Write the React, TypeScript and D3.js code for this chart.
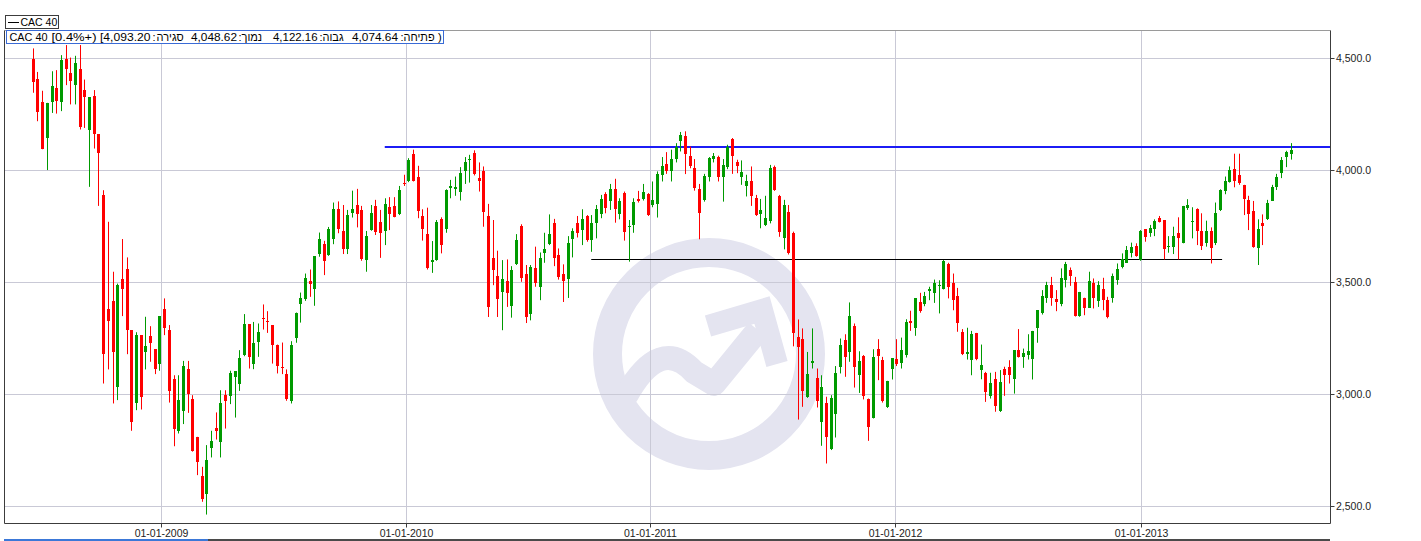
import React from "react";
import * as d3 from "d3";

// ---- Data (weekly CAC 40 candles, first week starting 2008-06-23) ----
const START_WEEK = Date.UTC(2008, 5, 23);

const opens = [
  4497, 4408, 4307, 4146, 4307, 4369, 4307, 4500, 4437, 4381,
  4455, 4359, 4183, 4332, 4162, 3890, 3380, 3417, 3034, 3515,
  3560, 3287, 2960, 3265, 3191, 3260, 3203, 3138, 3380, 3287,
  3071, 2838, 2927, 3112, 2979, 2811, 2635, 2554, 2763, 2851,
  2789, 2997, 2993, 3079, 3046, 3176, 3314, 3134, 3235, 3342,
  3327, 3310, 3223, 3121, 3091, 2970, 3253, 3403, 3426, 3506,
  3473, 3626, 3671, 3622, 3695, 3827, 3730, 3649, 3812, 3846,
  3824, 3600, 3734, 3843, 3772, 3731, 3839, 3842, 3806, 3943,
  3951, 4075, 3970, 3797, 3716, 3593, 3600, 3784, 3739, 3922,
  3918, 3906, 4000, 4048, 4078, 3966, 4000, 3797, 3610, 3530,
  3458, 3506, 3396, 3582, 3754, 3537, 3361, 3566, 3478, 3633,
  3672, 3767, 3622, 3537, 3515, 3694, 3767, 3734, 3799, 3690,
  3767, 3806, 3896, 3864, 3918, 3806, 3899, 3749, 3757, 3872,
  3873, 3896, 3846, 3849, 3981, 4030, 3996, 4052, 4130, 4155,
  4066, 4010, 3918, 3869, 3970, 4051, 4060, 3970, 4015, 4140,
  4037, 3973, 3931, 3951, 3876, 3806, 3757, 3776, 4015, 3887,
  3697, 3816, 3722, 3257, 3250, 2990, 3141, 3074, 2878, 2960,
  2755, 2915, 3121, 3243, 3190, 3305, 3089, 3173, 2982, 2896,
  3205, 3153, 2942, 3112, 3158, 3141, 3176, 3327, 3295, 3414,
  3403, 3463, 3451, 3485, 3473, 3582, 3499, 3439, 3280, 3183,
  3156, 3275, 3109, 3097, 2993, 3068, 2927, 3113, 3124, 3068,
  3198, 3168, 3176, 3158, 3299, 3365, 3429, 3488, 3426, 3402,
  3513, 3558, 3503, 3350, 3432, 3387, 3500, 3418, 3470, 3424,
  3430, 3513, 3567, 3588, 3633, 3663, 3600, 3737, 3719, 3739,
  3790, 3779, 3660, 3657, 3719, 3678, 3831, 3769, 3828, 3731,
  3678, 3730, 3675, 3824, 3910, 3948, 4006, 3981, 3936, 3869,
  3819, 3652, 3764, 3782, 3866, 3925, 3991, 4060, 4074.64,
];

const highs = [
  4545, 4440, 4356, 4302, 4443, 4448, 4515, 4560, 4504, 4512,
  4560, 4406, 4326, 4359, 4162, 3912, 3771, 3548, 3495, 3694,
  3612, 3287, 3278, 3265, 3347, 3305, 3203, 3350, 3429, 3310,
  3086, 3086, 3150, 3150, 2997, 2811, 2677, 2774, 2838, 2920,
  3019, 3019, 3106, 3104, 3198, 3359, 3314, 3324, 3317, 3402,
  3372, 3310, 3223, 3232, 3112, 3238, 3366, 3455, 3540, 3558,
  3618, 3723, 3686, 3748, 3857, 3862, 3846, 3824, 3910, 3918,
  3842, 3730, 3846, 3869, 3824, 3876, 3881, 3881, 3931, 3981,
  4055, 4093, 4021, 3827, 3834, 3685, 3779, 3791, 3916, 3958,
  3973, 4015, 4060, 4070, 4090, 4036, 4018, 3851, 3779, 3642,
  3600, 3603, 3573, 3716, 3760, 3578, 3578, 3660, 3634, 3722,
  3804, 3784, 3652, 3581, 3707, 3742, 3797, 3827, 3801, 3801,
  3846, 3891, 3903, 3940, 3963, 3876, 3906, 3779, 3876, 3909,
  3940, 3899, 3951, 3996, 4060, 4082, 4093, 4122, 4172, 4175,
  4107, 4051, 3940, 3985, 4060, 4078, 4066, 4051, 4115, 4145,
  4048, 4045, 3981, 4018, 3891, 3873, 3887, 4025, 4022, 3891,
  3869, 3846, 3727, 3335, 3295, 3190, 3295, 3116, 3086, 2990,
  2997, 3127, 3250, 3269, 3411, 3317, 3193, 3176, 2982, 3202,
  3247, 3168, 3061, 3161, 3247, 3254, 3336, 3374, 3429, 3454,
  3458, 3481, 3513, 3510, 3600, 3588, 3540, 3476, 3292, 3298,
  3284, 3275, 3223, 3101, 3097, 3101, 3109, 3124, 3153, 3198,
  3292, 3205, 3269, 3284, 3376, 3466, 3503, 3525, 3466, 3563,
  3592, 3567, 3525, 3458, 3432, 3548, 3518, 3506, 3521, 3436,
  3540, 3585, 3630, 3663, 3678, 3675, 3734, 3737, 3757, 3782,
  3797, 3779, 3707, 3749, 3791, 3842, 3872, 3836, 3831, 3809,
  3776, 3746, 3857, 3916, 3973, 4018, 4075, 4075, 3936, 3887,
  3864, 3782, 3804, 3869, 3936, 3985, 4060, 4088, 4122.16,
];

const lows = [
  4347, 4220, 4095, 4002, 4257, 4254, 4265, 4381, 4295, 4295,
  4183, 4190, 3927, 4098, 3842, 3049, 3112, 2960, 2975, 3350,
  3180, 2838, 2930, 2933, 3112, 3146, 3091, 3106, 3265, 2964,
  2769, 2826, 2868, 2918, 2745, 2640, 2521, 2464, 2719, 2799,
  2719, 2848, 2957, 2897, 3016, 3171, 3116, 3113, 3168, 3290,
  3275, 3138, 3094, 3091, 2972, 2960, 3231, 3321, 3418, 3436,
  3396, 3615, 3533, 3619, 3671, 3720, 3627, 3627, 3790, 3746,
  3597, 3548, 3731, 3712, 3610, 3667, 3734, 3791, 3801, 3931,
  3948, 3951, 3787, 3687, 3558, 3543, 3597, 3630, 3722, 3876,
  3887, 3866, 3940, 3946, 3978, 3906, 3749, 3346, 3488, 3346,
  3287, 3391, 3343, 3578, 3503, 3319, 3331, 3481, 3421, 3588,
  3667, 3573, 3513, 3413, 3431, 3612, 3701, 3667, 3682, 3637,
  3697, 3787, 3809, 3824, 3767, 3782, 3687, 3593, 3722, 3857,
  3866, 3797, 3836, 3790, 3951, 3985, 3951, 4036, 4085, 3984,
  4010, 3910, 3693, 3861, 3951, 4036, 3951, 3861, 4006, 3985,
  3988, 3936, 3884, 3842, 3797, 3742, 3752, 3764, 3909, 3704,
  3648, 3625, 3215, 2888, 2945, 2985, 3116, 2942, 2771, 2692,
  2752, 2808, 3094, 3079, 3146, 3031, 3007, 2978, 2793, 2893,
  3064, 2964, 2940, 3067, 3127, 3116, 3165, 3284, 3262, 3365,
  3394, 3421, 3409, 3362, 3469, 3429, 3376, 3280, 3176, 3156,
  3086, 3153, 3068, 2967, 2982, 2923, 2922, 2994, 3049, 3004,
  3165, 3119, 3156, 3067, 3231, 3357, 3409, 3396, 3372, 3394,
  3478, 3485, 3348, 3347, 3354, 3387, 3384, 3391, 3376, 3340,
  3410, 3490, 3563, 3588, 3612, 3615, 3597, 3682, 3704, 3707,
  3768, 3603, 3633, 3627, 3603, 3675, 3824, 3697, 3667, 3645,
  3660, 3585, 3667, 3819, 3894, 3946, 3925, 3936, 3801, 3734,
  3655, 3578, 3667, 3779, 3866, 3913, 3966, 4015, 4048.62,
];

const closes = [
  4396, 4262, 4098, 4302, 4376, 4311, 4493, 4455, 4400, 4482,
  4195, 4329, 4326, 4162, 4079, 3179, 3329, 3191, 3488, 3469,
  3290, 2878, 3265, 2987, 3216, 3228, 3116, 3350, 3299, 3016,
  2848, 2975, 3127, 3002, 2749, 2699, 2533, 2707, 2792, 2838,
  2963, 2972, 3097, 3104, 3161, 3314, 3168, 3228, 3277, 3339,
  3323, 3223, 3128, 3118, 2979, 3220, 3366, 3429, 3522, 3493,
  3618, 3693, 3597, 3737, 3827, 3739, 3649, 3801, 3828, 3806,
  3604, 3707, 3812, 3727, 3722, 3851, 3804, 3794, 3913, 3939,
  4048, 3955, 3821, 3739, 3563, 3600, 3772, 3667, 3913, 3931,
  3928, 3991, 4040, 4052, 3985, 3951, 3816, 3391, 3558, 3428,
  3515, 3454, 3555, 3690, 3518, 3346, 3570, 3499, 3610, 3648,
  3716, 3610, 3525, 3507, 3675, 3731, 3722, 3784, 3690, 3767,
  3828, 3873, 3834, 3918, 3828, 3866, 3727, 3752, 3861, 3864,
  3903, 3801, 3869, 3985, 4021, 4000, 4052, 4104, 4160, 4073,
  4018, 3924, 3809, 3976, 4055, 4066, 3973, 4025, 4107, 4063,
  4018, 3993, 3954, 3888, 3801, 3824, 3787, 4010, 3913, 3727,
  3846, 3630, 3275, 3213, 3016, 3091, 3149, 2970, 3034, 2811,
  2985, 3094, 3220, 3168, 3350, 3124, 3149, 2994, 2856, 3168,
  3173, 2970, 3061, 3161, 3138, 3198, 3324, 3317, 3429, 3374,
  3440, 3470, 3500, 3491, 3597, 3478, 3422, 3320, 3183, 3190,
  3269, 3158, 3131, 3009, 3052, 2949, 3057, 3086, 3086, 3198,
  3168, 3186, 3193, 3283, 3376, 3439, 3488, 3433, 3414, 3521,
  3582, 3530, 3351, 3458, 3388, 3506, 3433, 3491, 3424, 3344,
  3528, 3560, 3607, 3645, 3660, 3619, 3731, 3704, 3745, 3776,
  3772, 3648, 3664, 3707, 3700, 3842, 3846, 3775, 3731, 3664,
  3730, 3652, 3809, 3913, 3955, 4003, 3955, 3943, 3872, 3806,
  3657, 3737, 3752, 3857, 3928, 3973, 4048, 4081, 4093.2,
];

const yTickValues = [2500, 3000, 3500, 4000, 4500];
const xTickDates = ["2009-01-01", "2010-01-01", "2011-01-01", "2012-01-01", "2013-01-01"];
const xTickLabels = ["01-01-2009", "01-01-2010", "01-01-2011", "01-01-2012", "01-01-2013"];

// horizontal drawn trend levels: value, start date, end date (null = to right edge), colour, width
const levelValues = [4107, 3603];
const levelStarts = ["2009-11-30", "2010-10-04"];
const levelEnds = [null, "2013-05-02"];
const levelColors = ["#1c1cf5", "#000000"];
const levelWidths = [2, 1];

// header info tokens (visual order, left to right), x positions and (for latin ones) widths
const headerTokens = [
  "CAC 40", "[0.4%+)", "[4,093.20", ":", "סגירה", "4,048.62", ":", "נמוך",
  "4,122.16", ":", "גבוה", "4,074.64", ":", "פתיחה", ")",
];
const headerTokenX = [9.5, 51.5, 100, 152.5, 156.5, 191, 238.5, 241.5, 273, 319.5, 322.5, 352, 400.5, 403.5, 438];
const headerTokenW = [38, 45, 50.5, 0, 0, 46, 0, 0, 44.5, 0, 0, 46, 0, 0, 0];

const FONT = "'Liberation Sans', Arial, sans-serif";
const W = 1421;
const H = 541;
const PL = 4.5, PR = 1330.5, PT = 30.5, PB = 523.5;

const isHebrew = (s: string) => /[\u0590-\u05FF]/.test(s);

export default function App() {
  const x = d3
    .scaleUtc()
    .domain([new Date(Date.UTC(2009, 0, 1)), new Date(Date.UTC(2013, 0, 1))])
    .range([161.5, 1141]);
  const y = d3.scaleLinear().domain([2500, 4500]).range([506.5, 58.5]);

  const candles = opens.map((o, i) => ({
    date: new Date(START_WEEK + i * 7 * 864e5),
    o,
    h: highs[i],
    l: lows[i],
    c: closes[i],
  }));

  const red = "#ff0000";
  const green = "#009a00";
  const grid = "#c9c9d6";
  const wm = "#e4e4f0";

  return (
    <svg
      width={W}
      height={H}
      style={{ position: "absolute", left: 0, top: 0, background: "#fff" }}
      fontFamily={FONT}
    >
      <rect x={0} y={0} width={W} height={H} fill="#fff" />

      {/* watermark logo */}
      <g fill="none" stroke={wm}>
        <circle cx={709} cy={354} r={101.5} strokeWidth={29} />
        <path d="M 626 396 Q 660 335 694 372 L 714 384 L 758 330" strokeWidth={24} strokeLinejoin="round" />
        <path d="M 708 326 L 762 310 L 777 364" strokeWidth={22} strokeLinejoin="miter" />
      </g>

      {/* grid */}
      <g stroke={grid} strokeWidth={1}>
        {yTickValues.map((v) => (
          <line key={v} x1={PL} x2={PR} y1={Math.floor(y(v)) + 0.5} y2={Math.floor(y(v)) + 0.5} />
        ))}
        {xTickDates.map((d) => {
          const xx = Math.floor(x(new Date(d + "T00:00:00Z"))) + 0.5;
          return <line key={d} x1={xx} x2={xx} y1={PT} y2={PB} />;
        })}
      </g>

      {/* level lines */}
      {levelValues.map((v, i) => {
        const x1 = x(new Date(levelStarts[i] + "T00:00:00Z"));
        const e = levelEnds[i];
        const x2 = e ? x(new Date(e + "T00:00:00Z")) : PR;
        const yy = levelWidths[i] % 2 === 1 ? Math.floor(y(v)) + 0.5 : Math.round(y(v));
        return (
          <line key={v} x1={x1} x2={x2} y1={yy} y2={yy} stroke={levelColors[i]} strokeWidth={levelWidths[i]} />
        );
      })}

      {/* candles */}
      <g>
        {candles.map((d, i) => {
          const cx = Math.round(x(d.date));
          const up = d.c >= d.o;
          const col = up ? green : red;
          const yTop = y(Math.max(d.o, d.c));
          const yBot = y(Math.min(d.o, d.c));
          const bTop = Math.round(yTop);
          const bH = Math.max(1, Math.round(yBot) - bTop);
          return (
            <g key={i}>
              <line x1={cx + 0.5} x2={cx + 0.5} y1={y(d.h)} y2={y(d.l)} stroke={col} strokeWidth={1} />
              <rect x={cx - 1} y={bTop} width={3} height={bH} fill={col} />
            </g>
          );
        })}
      </g>

      {/* frame / axes */}
      <g stroke="#3c3c3c" strokeWidth={1} fill="none">
        <line x1={PL} x2={PR} y1={PT} y2={PT} stroke="#9a9a9a" />
        <line x1={PL} x2={PL} y1={PT} y2={PB} />
        <line x1={PR} x2={PR} y1={PT} y2={PB} />
        <line x1={PL} x2={PR} y1={PB} y2={PB} />
      </g>

      {/* y axis ticks */}
      {yTickValues.map((v) => {
        const yy = Math.floor(y(v)) + 0.5;
        return (
          <g key={v}>
            <line x1={PR} x2={PR + 4} y1={yy} y2={yy} stroke="#3c3c3c" />
            <text x={1336} y={yy} dy="0.35em" fontSize={10.5} fill="#222">
              {d3.format(",.1f")(v)}
            </text>
          </g>
        );
      })}

      {/* x axis ticks */}
      {xTickDates.map((d, i) => {
        const xx = Math.floor(x(new Date(d + "T00:00:00Z"))) + 0.5;
        return (
          <g key={d}>
            <line x1={xx} x2={xx} y1={PB} y2={PB + 4} stroke="#3c3c3c" />
            <text x={xx} y={537} textAnchor="middle" fontSize={10.5} fill="#222">
              {xTickLabels[i]}
            </text>
          </g>
        );
      })}

      {/* bottom scroll indicator */}
      <rect x={4} y={539} width={204} height={2} fill="#3b78d8" />
      <rect x={208} y={539} width={1122} height={2} fill="#4a4a4a" />

      {/* legend box */}
      <rect x={5.5} y={15.5} width={53} height={13} fill="#fff" stroke="#3c3c3c" />
      <line x1={8} x2={19} y1={22.5} y2={22.5} stroke="#000" />
      <text x={20.5} y={26} fontSize={10.5} fill="#000">CAC 40</text>

      {/* info box */}
      <rect x={6.5} y={30.5} width={437} height={13} fill="#fff" stroke="#3a6bd6" />
      {headerTokens.map((t, i) => {
        const heb = isHebrew(t);
        const style = heb ? undefined : { direction: "ltr" as const, unicodeBidi: "bidi-override" as const };
        return headerTokenW[i] > 0 ? (
          <text
            key={i}
            x={headerTokenX[i]}
            y={41}
            fontSize={11}
            fill="#000"
            style={style}
            textLength={headerTokenW[i]}
            lengthAdjust="spacingAndGlyphs"
          >
            {t}
          </text>
        ) : (
          <text key={i} x={headerTokenX[i]} y={41} fontSize={11} fill="#000" style={style}>
            {t}
          </text>
        );
      })}
    </svg>
  );
}
